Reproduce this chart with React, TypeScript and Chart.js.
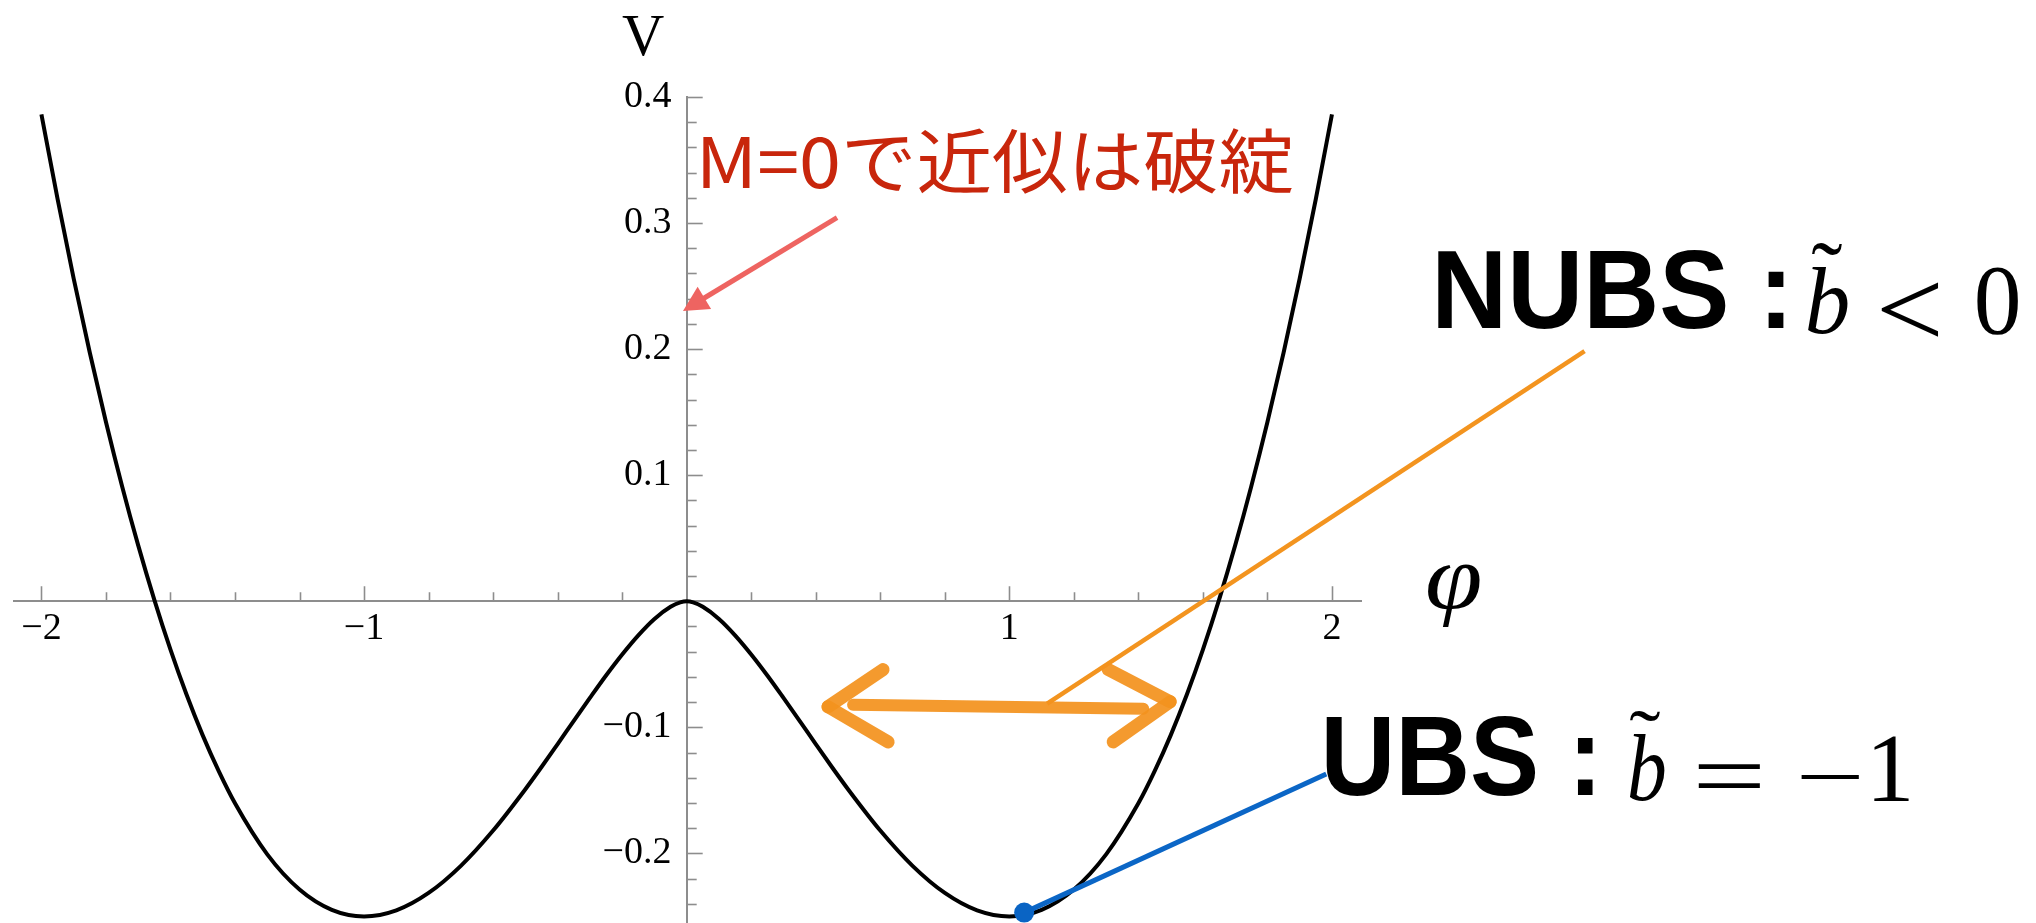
import { useEffect, useRef } from 'react';
import { Chart, registerables } from 'chart.js';

Chart.register(...registerables);

// ---- data ----
const phiValues = [
  -2, -1.95, -1.9, -1.85, -1.8, -1.75, -1.7, -1.65, -1.6, -1.55, -1.5, -1.45, -1.4, -1.3, -1.2, -1.1,
  -1, -0.9, -0.8, -0.7, -0.6, -0.5, -0.45, -0.4, -0.35, -0.3, -0.25, -0.2, -0.15, -0.1, -0.05, -0.02,
  0, 0.02, 0.05, 0.1, 0.15, 0.2, 0.25, 0.3, 0.35, 0.4, 0.45, 0.5, 0.6, 0.7, 0.8, 0.9,
  1, 1.1, 1.2, 1.3, 1.4, 1.45, 1.5, 1.55, 1.6, 1.65, 1.7, 1.75, 1.8, 1.85, 1.9, 1.95, 2,
];
const potentialValues = [
  0.3863, 0.3191, 0.256, 0.1971, 0.1422, 0.0913, 0.0443, 0.0011, -0.0384, -0.0742, -0.1064, -0.135, -0.1603, -0.2008, -0.2287, -0.2448,
  -0.25, -0.2452, -0.2314, -0.2099, -0.1819, -0.1491, -0.1315, -0.1133, -0.0949, -0.0767, -0.0589, -0.0422, -0.027, -0.014, -0.0044, -0.0009,
  0, -0.0009, -0.0044, -0.014, -0.027, -0.0422, -0.0589, -0.0767, -0.0949, -0.1133, -0.1315, -0.1491, -0.1819, -0.2099, -0.2314, -0.2452,
  -0.25, -0.2448, -0.2287, -0.2008, -0.1603, -0.135, -0.1064, -0.0742, -0.0384, 0.0011, 0.0443, 0.0913, 0.1422, 0.1971, 0.256, 0.3191, 0.3863,
];
const ubsPhi = [1.046];
const ubsPotential = [-0.247];

const xTickValues = [-2, -1, 1, 2];
const xTickLabels = ['\u22122', '\u22121', '1', '2'];
const yTickValues = [-0.2, -0.1, 0.1, 0.2, 0.3, 0.4];
const yTickLabels = ['\u22120.2', '\u22120.1', '0.1', '0.2', '0.3', '0.4'];

const axisTitleX = '\u03C6';
const axisTitleY = 'V';
const noteRed = 'M=0で近似は破綻';
const noteNubs = 'NUBS :';
const noteUbs = 'UBS :';

// ---- annotation geometry, in data units (phi, V) ----
const ANN = {
  vLabel: [-0.2006, 0.4645, -0.0704, 0.4327],
  phiLabel: [2.2955, 0.0295, 2.4598, -0.0207],
  redText: [0.0505, 0.3753, 1.8769, 0.3227],
  redArrow: [0.466, 0.3044, -0.0115, 0.2303],
  nubsText: [2.3294, 0.2781, 3.4022, 0.2159],
  nubsB: [3.4735, 0.2653, 3.5975, 0.212],
  nubsTilde: [3.4859, 0.2837, 3.582, 0.2741],
  nubsLt: [3.7002, 0.2534, 3.88, 0.2096],
  nubsZero: [3.9979, 0.2645, 4.1281, 0.2112],
  orangeLine: [2.7829, 0.1984, 1.1172, -0.0813],
  leftTip: [0.4381, -0.0837],
  leftArmA: [0.6087, -0.0542],
  leftArmB: [0.6242, -0.1116],
  shaftA: [0.5157, -0.0821],
  shaftB: [1.4149, -0.0853],
  rightTip: [1.4986, -0.0797],
  rightArmA: [1.3064, -0.0542],
  rightArmB: [1.3219, -0.1116],
  blueLine: [1.0459, -0.247, 1.9823, -0.1371],
  ubsText: [1.9823, -0.0908, 2.8102, -0.1546],
  ubsB: [2.9218, -0.1052, 3.0304, -0.1586],
  ubsTilde: [2.9218, -0.0876, 3.018, -0.0956],
  ubsEq: [3.1327, -0.1299, 3.328, -0.1482],
  ubsMinus: [3.4521, -0.1371, 3.635, -0.141],
  ubsOne: [3.6784, -0.1076, 3.787, -0.1586],
};

const TICK_FONT_SIZE = 38;
// Chart.js reserves half a label line below the lowest y tick; the canvas is made
// that much taller than the page and the overflow is clipped by the wrapper.
const PAGE_W = 2036;
const PAGE_H = 923;
const CANVAS_H = PAGE_H - 1 + Math.round((TICK_FONT_SIZE * 1.2) / 2);

function drawFit(ctx: CanvasRenderingContext2D, text: string, font: string, color: string, x0: number, y0: number, x1: number, y1: number) {
  ctx.save();
  ctx.font = font;
  ctx.textAlign = 'left';
  ctx.textBaseline = 'alphabetic';
  const m = ctx.measureText(text);
  const w = m.actualBoundingBoxLeft + m.actualBoundingBoxRight;
  const h = m.actualBoundingBoxAscent + m.actualBoundingBoxDescent;
  ctx.translate(x0, y0);
  ctx.scale((x1 - x0) / w, (y1 - y0) / h);
  ctx.fillStyle = color;
  ctx.fillText(text, m.actualBoundingBoxLeft, m.actualBoundingBoxAscent);
  ctx.restore();
}

const annotationPlugin = {
  id: 'annotations',
  beforeDatasetsDraw(chart: any) {
    const { ctx } = chart;
    const xs = chart.scales.x;
    const ys = chart.scales.y;
    const y0 = ys.getPixelForValue(0);
    const x0 = xs.getPixelForValue(0);
    ctx.save();
    ctx.strokeStyle = '#8d8d8d';
    ctx.lineWidth = 1.6;
    for (let i = -10; i <= 10; i++) {
      const v = i * 0.2;
      if (i === 0 || v < xs.min || v > xs.max) continue;
      const px = Math.round(xs.getPixelForValue(v)) + 0.5;
      const len = i % 5 === 0 ? 15 : 9;
      ctx.beginPath();
      ctx.moveTo(px, y0);
      ctx.lineTo(px, y0 - len);
      ctx.stroke();
    }
    for (let i = -13; i <= 20; i++) {
      const v = i * 0.02;
      if (i === 0 || v < ys.min - 1e-9 || v > ys.max + 1e-9) continue;
      const py = Math.round(ys.getPixelForValue(v)) + 0.5;
      const len = i % 5 === 0 ? 16 : 10;
      ctx.beginPath();
      ctx.moveTo(x0, py);
      ctx.lineTo(x0 + len, py);
      ctx.stroke();
    }
    ctx.restore();
  },
  afterDatasetDraw(chart: any, args: any) {
    if (args.index !== 0) return;
    const { ctx } = chart;
    const xs = chart.scales.x;
    const ys = chart.scales.y;
    const P = (p: number[]) => [xs.getPixelForValue(p[0]), ys.getPixelForValue(p[1])];
    ctx.save();
    ctx.lineCap = 'butt';

    // red arrow
    const [ax, ay] = P(ANN.redArrow.slice(0, 2));
    const [tx, ty] = P(ANN.redArrow.slice(2, 4));
    const ang = Math.atan2(ty - ay, tx - ax);
    const headLen = 25;
    const headHalf = 13;
    const bx = tx - headLen * Math.cos(ang);
    const by = ty - headLen * Math.sin(ang);
    ctx.strokeStyle = '#EE6461';
    ctx.fillStyle = '#EE6461';
    ctx.lineWidth = 5;
    ctx.beginPath();
    ctx.moveTo(ax, ay);
    ctx.lineTo(bx + 2 * Math.cos(ang), by + 2 * Math.sin(ang));
    ctx.stroke();
    ctx.beginPath();
    ctx.moveTo(tx, ty);
    ctx.lineTo(bx - headHalf * Math.sin(ang), by + headHalf * Math.cos(ang));
    ctx.lineTo(bx + headHalf * Math.sin(ang), by - headHalf * Math.cos(ang));
    ctx.closePath();
    ctx.fill();

    // orange leader line
    const [o1x, o1y] = P(ANN.orangeLine.slice(0, 2));
    const [o2x, o2y] = P(ANN.orangeLine.slice(2, 4));
    ctx.strokeStyle = '#F3941F';
    ctx.lineWidth = 4.5;
    ctx.beginPath();
    ctx.moveTo(o1x, o1y);
    ctx.lineTo(o2x, o2y);
    ctx.stroke();

    // orange double arrow (hand drawn look)
    ctx.strokeStyle = 'rgba(243,146,30,0.93)';
    ctx.lineCap = 'round';
    ctx.lineJoin = 'round';
    ctx.lineWidth = 12;
    const seg = (a: number[], b: number[]) => {
      const [p1x, p1y] = P(a);
      const [p2x, p2y] = P(b);
      ctx.beginPath();
      ctx.moveTo(p1x, p1y);
      ctx.lineTo(p2x, p2y);
      ctx.stroke();
    };
    seg(ANN.shaftA, ANN.shaftB);
    ctx.lineWidth = 13;
    seg(ANN.leftArmA, ANN.leftTip);
    seg(ANN.leftTip, ANN.leftArmB);
    seg(ANN.rightArmA, ANN.rightTip);
    seg(ANN.rightTip, ANN.rightArmB);

    // blue leader line
    ctx.lineCap = 'butt';
    ctx.strokeStyle = '#0B66C6';
    ctx.lineWidth = 5;
    seg(ANN.blueLine.slice(0, 2), ANN.blueLine.slice(2, 4));
    ctx.restore();
  },
  afterDraw(chart: any) {
    const { ctx } = chart;
    const xs = chart.scales.x;
    const ys = chart.scales.y;
    const box = (b: number[], text: string, font: string, color: string) => {
      drawFit(ctx, text, font, color,
        xs.getPixelForValue(b[0]), ys.getPixelForValue(b[1]),
        xs.getPixelForValue(b[2]), ys.getPixelForValue(b[3]));
    };
    box(ANN.vLabel, axisTitleY, '60px "Liberation Serif"', '#000');
    box(ANN.phiLabel, axisTitleX, 'italic 90px "Liberation Serif"', '#000');
    box(ANN.redText, noteRed, '74px "Noto Sans CJK JP"', '#C8260C');
    box(ANN.nubsText, noteNubs, 'bold 106px "Liberation Sans"', '#000');
    box(ANN.nubsB, 'b', 'italic 100px "Liberation Serif"', '#000');
    box(ANN.nubsTilde, '\u02DC', '100px "Liberation Serif"', '#000');
    box(ANN.nubsLt, '<', '100px "Liberation Serif"', '#000');
    box(ANN.nubsZero, '0', '100px "Liberation Serif"', '#000');
    box(ANN.ubsText, noteUbs, 'bold 106px "Liberation Sans"', '#000');
    box(ANN.ubsB, 'b', 'italic 100px "Liberation Serif"', '#000');
    box(ANN.ubsTilde, '\u02DC', '100px "Liberation Serif"', '#000');
    box(ANN.ubsEq, '=', '100px "Liberation Serif"', '#000');
    box(ANN.ubsMinus, '\u2212', '100px "Liberation Serif"', '#000');
    box(ANN.ubsOne, '1', '100px "Liberation Serif"', '#000');
  },
};

export default function App() {
  const ref = useRef<HTMLCanvasElement | null>(null);
  useEffect(() => {
    if (!ref.current) return;
    const curve = phiValues.map((x, i) => ({ x, y: potentialValues[i] }));
    const dot = ubsPhi.map((x, i) => ({ x, y: ubsPotential[i] }));
    const chart = new Chart(ref.current, {
      type: 'line',
      data: {
        datasets: [
          {
            data: curve,
            borderColor: '#000',
            borderWidth: 4,
            pointRadius: 0,
            cubicInterpolationMode: 'monotone',
            fill: false,
            order: 1,
            clip: false as any,
          },
          {
            data: dot,
            showLine: false,
            pointRadius: 10,
            pointBackgroundColor: '#0A64C4',
            pointBorderWidth: 0,
            order: 0,
            clip: false as any,
          },
        ],
      },
      options: {
        responsive: false,
        devicePixelRatio: 1,
        animation: false,
        events: [],
        layout: { padding: { left: 14, right: 675, top: 97, bottom: 0 } },
        plugins: { legend: { display: false }, tooltip: { enabled: false } },
        scales: {
          x: {
            type: 'linear',
            min: -2.085,
            max: 2.09,
            bounds: 'data',
            position: { y: 0 } as any,
            grid: { display: false, drawTicks: false },
            border: { display: true, color: '#8d8d8d', width: 2 },
            afterBuildTicks: (scale: any) => {
              scale.ticks = xTickValues.map((value) => ({ value }));
            },
            ticks: {
              color: '#000',
              padding: 5,
              maxRotation: 0,
              autoSkip: false,
              font: { family: '"Liberation Serif"', size: TICK_FONT_SIZE },
              callback: (_v: any, i: number) => xTickLabels[i],
            },
          },
          y: {
            type: 'linear',
            min: -0.2546,
            max: 0.4,
            bounds: 'data',
            position: { x: 0 } as any,
            grid: { display: false, drawTicks: false },
            border: { display: true, color: '#8d8d8d', width: 2 },
            afterBuildTicks: (scale: any) => {
              scale.ticks = yTickValues.map((value) => ({ value }));
            },
            ticks: {
              color: '#000',
              padding: 0,
              autoSkip: false,
              font: { family: '"Liberation Serif"', size: TICK_FONT_SIZE },
              // the centred axis ignores tick padding, so thin spaces keep the gap
              callback: (_v: any, i: number) => yTickLabels[i] + '\u2009\u2009',
            },
          },
        },
      },
      plugins: [annotationPlugin],
    } as any);
    return () => chart.destroy();
  }, []);
  return (
    <div style={{ position: 'absolute', left: 0, top: 0, width: PAGE_W, height: PAGE_H, overflow: 'hidden', background: '#fff' }}>
      <canvas ref={ref} width={PAGE_W} height={CANVAS_H} style={{ display: 'block', width: PAGE_W, height: CANVAS_H }} />
    </div>
  );
}
